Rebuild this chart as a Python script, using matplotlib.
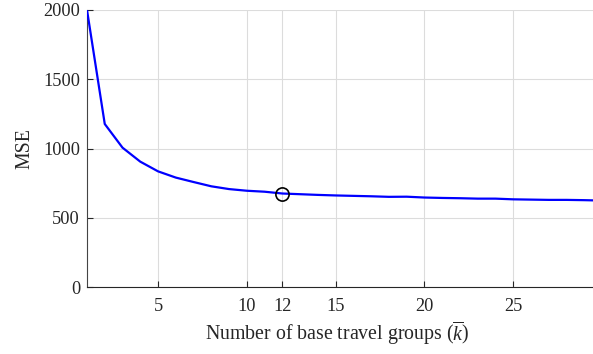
import matplotlib
matplotlib.use("Agg")
import matplotlib.pyplot as plt

k = list(range(1, 31))
mse = [2000, 1177, 1006, 905, 835, 790, 758, 727, 707, 695, 688, 675, 670, 665, 661,
       658, 655, 651, 652, 646, 643, 641, 638, 638, 633, 631, 629, 629, 627, 624]
k_sel = 12
mse_sel = mse[k.index(k_sel)]
xticks = [5, 10, 12, 15, 20, 25]
yticks = [0, 500, 1000, 1500, 2000]

plt.rcParams['font.family'] = ['Liberation Serif', 'DejaVu Serif']
plt.rcParams['mathtext.fontset'] = 'custom'
plt.rcParams['mathtext.rm'] = 'Liberation Serif'
plt.rcParams['mathtext.it'] = 'Liberation Serif:italic'

fig = plt.figure(figsize=(5.93, 3.54), dpi=100)
ax = fig.add_axes([87/593, 1-287/354, (602-87)/593, (287-10)/354])
ax.plot(k, mse, color=(0, 0, 1), lw=1.6, zorder=3)
ax.plot([k_sel], [mse_sel], marker='o', ms=9.5, mfc='none', mec='black', mew=1.2, zorder=4)
ax.set_xlim(1, 30)
ax.set_ylim(0, 2000)
ax.set_xticks(xticks)
ax.set_yticks(yticks)
ax.grid(True, color='#dcdcdc', lw=0.8)
ax.set_axisbelow(True)
for s in ['top', 'right']:
    ax.spines[s].set_visible(False)
ax.spines['left'].set_color('#444444')
ax.spines['bottom'].set_color('#262626')
ax.tick_params(direction='in', length=4, labelsize=13.2, colors='#262626')
ax.tick_params(axis='x', pad=8)
ax.tick_params(axis='y', pad=5)
ax.set_xlabel(r'Number of base travel groups ($\overline{k}$)', fontsize=14.3, color='#262626')
ax.xaxis.set_label_coords((337 - 87) / 515, -0.117)
ax.set_ylabel('MSE', fontsize=14.3, color='#262626', labelpad=6)
fig.savefig('out.png', dpi=100)
